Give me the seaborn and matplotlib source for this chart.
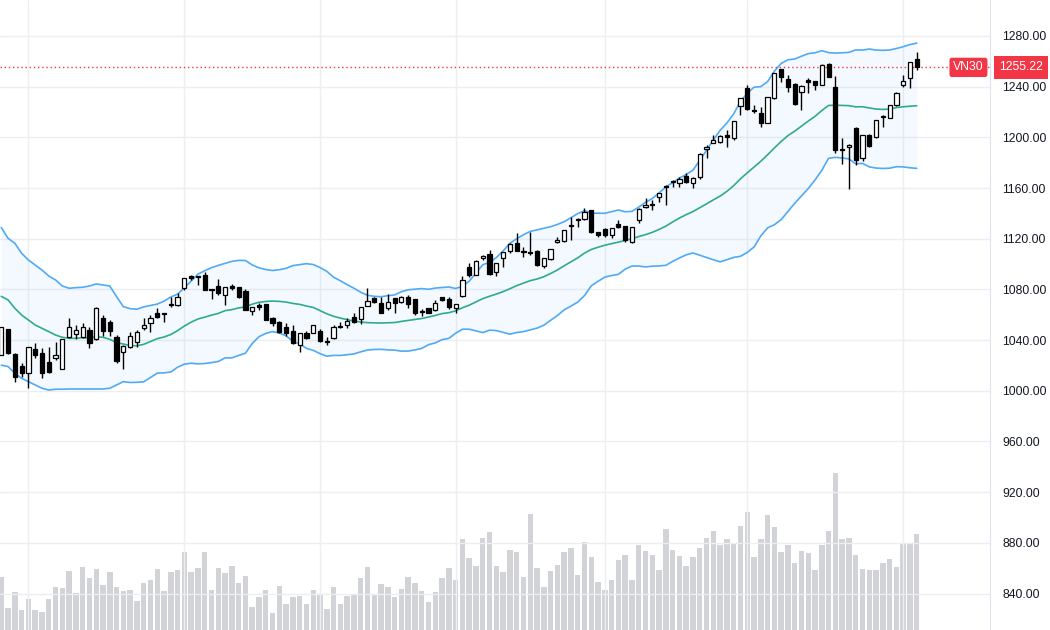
import numpy as np
import pandas as pd
import seaborn as sns
import matplotlib.pyplot as plt

# VN30 daily candles
opens = [1028.2, 1048.5, 1029.0, 1019.6, 1013.7, 1032.7, 1029.5, 1023.0, 1025.6, 1017.2,
         1042.7, 1044.8, 1042.7, 1048.0, 1040.6, 1057.2, 1054.0, 1042.7, 1030.8, 1034.8,
         1038.7, 1049.3, 1053.3, 1061.1, 1061.0, 1067.6, 1067.7, 1080.9, 1090.6, 1089.8,
         1091.4, 1080.3, 1082.7, 1075.6, 1082.7, 1082.2, 1079.0, 1063.2, 1067.7, 1068.3,
         1057.2, 1054.6, 1050.1, 1047.2, 1036.2, 1045.9, 1045.9, 1047.2, 1038.8, 1041.4,
         1050.1, 1052.0, 1058.0, 1056.4, 1066.9, 1073.5, 1069.6, 1065.1, 1073.5, 1070.4,
         1074.3, 1072.2, 1062.5, 1065.1, 1063.8, 1073.8, 1072.2, 1065.1, 1074.8, 1097.4,
         1091.4, 1104.5, 1107.9, 1094.0, 1104.5, 1110.6, 1116.9, 1110.6, 1109.8, 1110.6,
         1098.5, 1103.7, 1117.7, 1118.5, 1130.4, 1134.6, 1135.3, 1142.7, 1125.0, 1127.4,
         1122.9, 1131.4, 1130.0, 1117.7, 1134.8, 1144.8, 1147.2, 1153.2, 1161.3, 1165.2,
         1163.7, 1169.5, 1164.2, 1168.5, 1190.8, 1195.3, 1196.6, 1201.9, 1199.3, 1224.8,
         1239.2, 1221.6, 1219.5, 1211.6, 1230.8, 1254.0, 1245.8, 1241.9, 1236.1, 1245.3,
         1244.8, 1241.3, 1257.9, 1240.0, 1190.8, 1192.1, 1207.1, 1183.5, 1201.9, 1200.6,
         1216.2, 1215.0, 1225.6, 1241.3, 1246.6, 1261.6]
highs = [1050.6, 1049.0, 1029.5, 1021.7, 1034.8, 1037.4, 1033.5, 1034.8, 1038.7, 1041.0,
         1057.2, 1051.9, 1053.2, 1050.6, 1065.9, 1059.8, 1055.9, 1044.0, 1035.9, 1046.7,
         1048.0, 1057.2, 1059.8, 1065.1, 1061.2, 1074.3, 1076.9, 1088.8, 1091.4, 1090.6,
         1094.0, 1080.5, 1088.0, 1081.7, 1084.3, 1082.2, 1080.1, 1066.0, 1069.0, 1068.3,
         1058.0, 1055.4, 1053.3, 1051.9, 1045.9, 1047.5, 1051.9, 1048.5, 1042.2, 1051.9,
         1054.6, 1057.2, 1061.1, 1066.4, 1080.9, 1074.3, 1074.3, 1076.4, 1073.5, 1074.8,
         1075.6, 1072.2, 1064.3, 1065.1, 1071.7, 1074.3, 1073.8, 1068.3, 1090.6, 1101.1,
         1103.0, 1107.2, 1111.1, 1101.1, 1109.8, 1116.4, 1124.3, 1113.7, 1125.6, 1111.1,
         1104.5, 1112.0, 1121.6, 1126.9, 1137.4, 1136.1, 1144.0, 1142.7, 1125.6, 1128.2,
         1128.2, 1134.8, 1130.0, 1129.5, 1144.0, 1151.9, 1150.6, 1155.8, 1162.4, 1166.4,
         1168.5, 1171.6, 1168.5, 1187.5, 1194.0, 1201.9, 1201.9, 1205.8, 1213.0, 1231.0,
         1241.3, 1225.6, 1224.2, 1232.0, 1251.0, 1254.2, 1249.2, 1242.7, 1241.3, 1246.6,
         1244.8, 1257.5, 1259.0, 1248.4, 1199.3, 1194.8, 1207.9, 1201.9, 1202.7, 1213.7,
         1217.7, 1225.6, 1236.1, 1249.2, 1259.8, 1267.7]
lows = [1028.2, 1029.0, 1007.2, 1011.2, 1001.9, 1025.6, 1009.8, 1013.8, 1024.3, 1017.0,
        1041.4, 1040.6, 1041.4, 1033.5, 1040.0, 1043.2, 1043.2, 1022.2, 1016.9, 1034.0,
        1034.8, 1048.0, 1046.7, 1057.2, 1054.6, 1066.4, 1067.0, 1079.6, 1087.5, 1083.5,
        1079.6, 1072.5, 1075.6, 1067.7, 1079.6, 1073.0, 1063.8, 1059.8, 1063.8, 1055.9,
        1051.1, 1045.9, 1043.3, 1036.9, 1030.9, 1040.6, 1045.4, 1038.8, 1036.2, 1040.6,
        1049.3, 1049.3, 1053.8, 1052.7, 1066.9, 1069.1, 1061.7, 1063.8, 1061.7, 1069.1,
        1065.1, 1059.8, 1059.0, 1061.1, 1063.0, 1071.1, 1064.3, 1061.1, 1074.3, 1090.1,
        1091.0, 1103.2, 1091.4, 1090.6, 1097.4, 1108.5, 1110.6, 1105.3, 1107.2, 1098.5,
        1096.6, 1103.2, 1116.4, 1117.7, 1119.0, 1129.5, 1134.8, 1124.8, 1121.6, 1121.6,
        1120.3, 1128.2, 1117.7, 1117.0, 1132.7, 1144.0, 1142.7, 1149.3, 1146.6, 1161.1,
        1160.6, 1164.2, 1159.8, 1167.0, 1183.5, 1195.3, 1195.8, 1192.7, 1198.0, 1217.7,
        1221.6, 1219.0, 1207.9, 1211.0, 1230.0, 1244.0, 1236.1, 1225.5, 1221.6, 1234.8,
        1237.4, 1241.0, 1247.9, 1187.4, 1179.0, 1159.0, 1178.2, 1181.6, 1192.7, 1199.3,
        1208.0, 1215.0, 1225.0, 1239.5, 1238.7, 1253.2]
closes = [1050.0, 1029.5, 1011.1, 1014.3, 1034.8, 1028.2, 1013.8, 1015.1, 1028.2, 1040.9,
          1050.1, 1048.0, 1050.1, 1037.4, 1065.1, 1047.2, 1047.2, 1023.8, 1035.6, 1043.2,
          1046.7, 1051.9, 1057.2, 1058.5, 1060.5, 1067.9, 1074.3, 1088.8, 1088.8, 1090.3,
          1079.6, 1079.8, 1076.9, 1081.7, 1080.9, 1074.3, 1063.8, 1065.9, 1065.9, 1055.9,
          1053.3, 1046.7, 1045.9, 1037.4, 1045.9, 1041.4, 1051.9, 1039.3, 1038.6, 1050.6,
          1051.0, 1055.4, 1054.6, 1066.4, 1071.1, 1070.4, 1061.7, 1070.4, 1069.1, 1073.8,
          1068.5, 1061.1, 1062.3, 1061.1, 1069.6, 1071.7, 1065.9, 1068.3, 1087.5, 1091.4,
          1102.7, 1106.4, 1092.2, 1101.1, 1109.8, 1115.9, 1110.6, 1109.3, 1109.0, 1099.3,
          1104.5, 1111.6, 1118.9, 1126.9, 1131.2, 1135.0, 1141.4, 1125.6, 1122.9, 1122.9,
          1128.2, 1129.5, 1119.0, 1129.0, 1143.2, 1146.6, 1146.6, 1155.8, 1160.5, 1164.8,
          1166.9, 1165.0, 1167.7, 1186.9, 1192.7, 1197.9, 1201.3, 1200.0, 1212.9, 1230.8,
          1222.1, 1220.8, 1211.1, 1231.6, 1250.5, 1247.9, 1240.0, 1226.3, 1240.6, 1244.0,
          1241.3, 1257.1, 1247.9, 1190.0, 1190.4, 1194.0, 1182.2, 1201.9, 1193.2, 1213.7,
          1216.6, 1225.6, 1234.8, 1244.5, 1259.8, 1255.22]
volumes = [53.3, 22.3, 38, 20, 30.7, 19.7, 18.3, 30.7, 42.7, 41.7,
           59, 36.7, 63, 52.3, 61, 44.7, 57.7, 42.7, 39, 40,
           29.3, 46.7, 50, 61, 39, 57.7, 60, 78.3, 57.7, 62,
           78.7, 40, 62, 56.7, 64, 46.7, 54.3, 23, 33, 40,
           17.3, 43.7, 26, 33, 34, 26, 40, 35, 20.7, 43.3,
           26, 34, 36.3, 52.3, 63, 35, 46, 43.3, 32.7, 41.3,
           53.3, 46.7, 39, 28.3, 38, 52.3, 62, 50, 91.7, 72,
           64.3, 92.7, 98.3, 64.3, 57.7, 80.7, 78.7, 53.3, 116.7, 62.3,
           42.7, 59, 65.7, 78.7, 82, 54.7, 88.3, 73, 48, 40.3,
           50, 70, 75, 50, 85, 79.7, 75, 60, 101.3, 80.7,
           74, 64.3, 73, 82.7, 92.7, 99.3, 85, 91.7, 86.3, 104.7,
           118.7, 73, 91.7, 115.7, 103.7, 78.7, 85, 67.7, 79.7, 77.3,
           60, 85, 99.3, 158, 91.7, 92.7, 75, 61, 60, 60,
           67.7, 71, 63.3, 87.3, 86.3, 96]

# Bollinger values for the first 19 bars (their 20-day window starts before the chart)
upper_head = [1128.8, 1120.3, 1116.4, 1108.5, 1103.2, 1099.3, 1095.3, 1090.6, 1087.5, 1082.7,
              1080.9, 1081.4, 1081.7, 1082.7, 1084.3, 1083.5, 1082.7, 1074.3, 1066.4]
mid_head = [1074.5, 1071.7, 1065.1, 1059.8, 1055.9, 1051.9, 1049.3, 1046.7, 1044.0, 1042.2,
            1041.4, 1041.4, 1041.9, 1041.4, 1042.7, 1042.2, 1040.6, 1038.0, 1036.9]
lower_head = [1020.2, 1019.1, 1013.8, 1009.8, 1007.2, 1004.6, 1002.0, 1000.6, 1001.2, 1001.2,
              1001.4, 1001.4, 1001.4, 1001.4, 1001.4, 1001.4, 1002.0, 1004.6, 1007.2]

month_starts = [4, 27, 47, 67, 89, 110, 133]
price_ticks = list(range(840, 1281, 40))

df = pd.DataFrame({'open': opens, 'high': highs, 'low': lows, 'close': closes, 'volume': volumes})
df['i'] = np.arange(len(df))
mid = df['close'].rolling(20).mean()
sd = df['close'].rolling(20).std(ddof=0)
df['mid'] = mid
df['upper'] = mid + 2 * sd
df['lower'] = mid - 2 * sd
n0 = len(mid_head)
df.loc[:n0 - 1, 'mid'] = mid_head
df.loc[:n0 - 1, 'upper'] = upper_head
df.loc[:n0 - 1, 'lower'] = lower_head

sns.set_style('white')
plt.rcParams['font.family'] = ['Liberation Sans', 'DejaVu Sans']

fig = plt.figure(figsize=(10.5, 6.3), dpi=100)
ax = fig.add_axes([0, 0, 990 / 1050, 1])

# volume pane (bottom quarter)
up = (df['close'] >= df['open']).values
ax2 = ax.twinx()
ax2.bar(df['i'], df['volume'], width=0.8, color='#9598A1', alpha=0.42, lw=0)
ax2.set_ylim(0, df['volume'].max() / 0.25)
ax2.set_yticks([])
for sp in ax2.spines.values():
    sp.set_visible(False)
ax.set_zorder(ax2.get_zorder() + 1)
ax.patch.set_visible(False)

# bollinger bands
ax.fill_between(df['i'], df['lower'], df['upper'], color='#2196F3', alpha=0.05, lw=0)
sns.lineplot(data=df, x='i', y='upper', color='#50AAF5', lw=1.2, ax=ax)
sns.lineplot(data=df, x='i', y='lower', color='#50AAF5', lw=1.2, ax=ax)
sns.lineplot(data=df, x='i', y='mid', color='#2FAA92', lw=1.2, ax=ax)

# candles
ax.vlines(df['i'], df['low'], df['high'], color='black', lw=1, zorder=3)
body = (df['close'] - df['open']).abs().clip(lower=0.6)
ax.bar(df['i'], body, bottom=df[['open', 'close']].min(axis=1), width=0.62,
       color=np.where(up, 'white', 'black'), edgecolor='black', linewidth=0.9, zorder=4)

last = closes[-1]
ax.axhline(last, color='#F23645', lw=1, ls=(0, (1, 2)), zorder=2)

ax.set_xlim(-0.19, 145.8)
ax.set_ylim(811.2, 1308.4)
ax.set_xticks(month_starts)
ax.set_yticks(price_ticks)
ax.set_yticklabels([f'{v:.2f}' for v in price_ticks])
ax.yaxis.tick_right()
ax.grid(True, color='#EDEEF1', lw=1)
ax.set_axisbelow(True)
ax.tick_params(axis='x', length=0, labelbottom=False)
ax.tick_params(axis='y', length=0, pad=9, labelsize=8.8, labelcolor='#131722')
ax.set_xlabel('')
ax.set_ylabel('')
for s in ['top', 'left', 'bottom']:
    ax.spines[s].set_visible(False)
ax.spines['right'].set_color('#E0E3EB')

ax.annotate('VN30', xy=(1, last), xycoords=('axes fraction', 'data'), xytext=(-4.5, 0),
            textcoords='offset points', ha='right', va='center', color='white', fontsize=8.8,
            bbox=dict(boxstyle='round,pad=0.3,rounding_size=0.2', fc='#F23645', ec='none'), zorder=6)
ax.annotate(f'{last:.2f}', xy=(1, last), xycoords=('axes fraction', 'data'), xytext=(6.5, 0),
            textcoords='offset points', ha='left', va='center', color='white', fontsize=8.8,
            bbox=dict(boxstyle='square,pad=0.45', fc='#F23645', ec='none'),
            annotation_clip=False, zorder=6)

fig.savefig('out.png', dpi=100)
